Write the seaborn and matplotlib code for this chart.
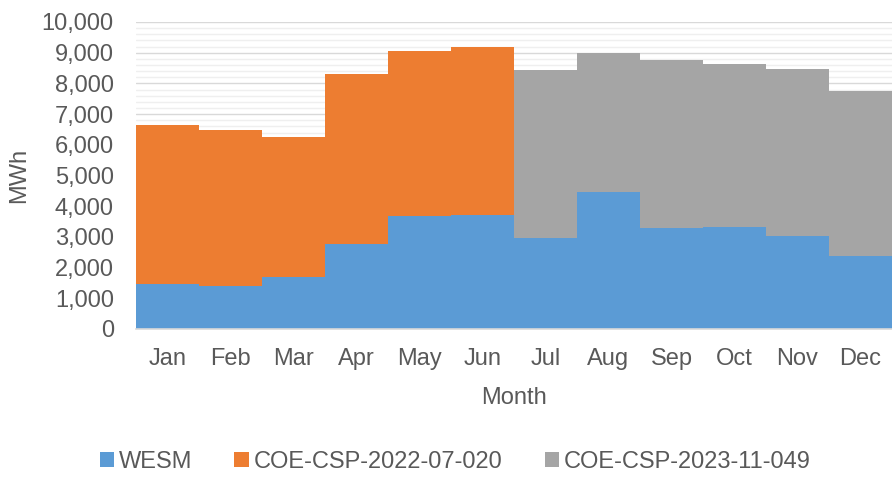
import numpy as np
import matplotlib
matplotlib.use("Agg")
import matplotlib.pyplot as plt
import seaborn as sns
from matplotlib.patches import Patch
from matplotlib.ticker import FuncFormatter, MultipleLocator

# Data (MWh)
months = ['Jan', 'Feb', 'Mar', 'Apr', 'May', 'Jun',
          'Jul', 'Aug', 'Sep', 'Oct', 'Nov', 'Dec']
wesm = [1460, 1390, 1685, 2760, 3670, 3720,
        2955, 4475, 3280, 3315, 3020, 2390]
csp_2022 = [5175, 5080, 4570, 5545, 5385, 5455,
            0, 0, 0, 0, 0, 0]
csp_2023 = [0, 0, 0, 0, 0, 0,
            5470, 4525, 5490, 5305, 5460, 5370]

series_names = ['WESM', 'COE-CSP-2022-07-020', 'COE-CSP-2023-11-049']
colors = ['#5B9BD5', '#ED7D31', '#A5A5A5']

sns.set_theme(style='white')
plt.rcParams['font.family'] = ['Liberation Sans', 'DejaVu Sans']
text_color = '#595959'
fs = 17

fig = plt.figure(figsize=(8.92, 4.8), dpi=100)
ax = fig.add_axes([0.1525, 0.3146, 0.8475, 0.6396])

bottom = np.zeros(len(months))
for vals, name, col in zip([wesm, csp_2022, csp_2023], series_names, colors):
    sns.barplot(x=months, y=vals, color=col, width=1.0, bottom=bottom,
                linewidth=0, saturation=1, errorbar=None, ax=ax)
    bottom = bottom + np.array(vals)

ax.set_xlim(-0.5, 11.5)
ax.set_ylim(0, 10000)
ax.yaxis.set_major_locator(MultipleLocator(1000))
ax.yaxis.set_minor_locator(MultipleLocator(200))
ax.yaxis.set_major_formatter(FuncFormatter(lambda v, p: f'{int(v):,}'))
ax.set_axisbelow(True)
ax.grid(axis='y', which='major', color='#d9d9d9', linewidth=1.0)
ax.grid(axis='y', which='minor', color='#efefef', linewidth=1.0)
ax.grid(axis='x', visible=False)

for s in ['top', 'right', 'left']:
    ax.spines[s].set_visible(False)
ax.spines['bottom'].set_color('#d9d9d9')
ax.spines['bottom'].set_linewidth(1.2)

ax.tick_params(axis='y', which='both', length=0, pad=16, labelsize=fs, labelcolor=text_color)
ax.tick_params(axis='x', length=0, pad=14, labelsize=fs, labelcolor=text_color)

ax.set_xlabel('Month', fontsize=fs, color=text_color, labelpad=12)
ax.set_ylabel('MWh', fontsize=fs, color=text_color, labelpad=8)

handles = [Patch(facecolor=c, edgecolor='none') for c in colors]
fig.legend(handles, series_names, loc='lower center', bbox_to_anchor=(0.51, -0.03),
           ncol=3, frameon=False, fontsize=fs, labelcolor=text_color,
           handlelength=0.6, handleheight=0.6, handletextpad=0.2,
           columnspacing=1.8)

fig.savefig('out.png', dpi=100)
